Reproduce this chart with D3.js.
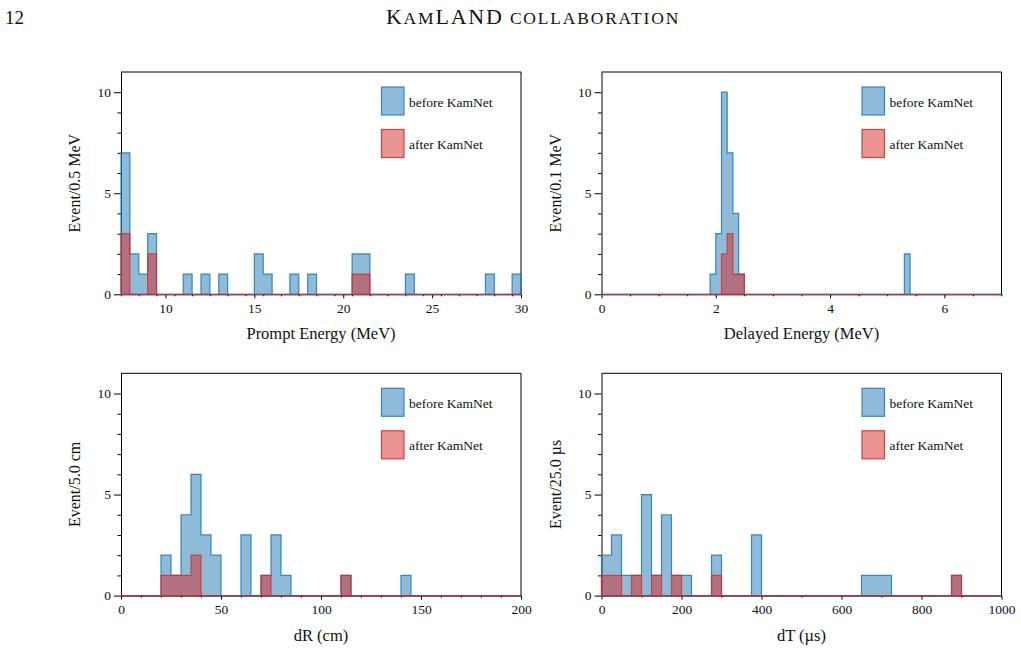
<!DOCTYPE html>
<html>
<head>
<meta charset="utf-8">
<script src="https://cdn.jsdelivr.net/npm/d3@7"></script>
<style>
    body { margin: 0; background: #fff; }
    svg text { font-family: 'Liberation Serif', 'DejaVu Serif', serif; fill: #111; }
</style>
</head>
<body>
<div id="chart"></div>
<script>
// Histogram contents as [bin low edge, events]
const promptBefore = [[7.5, 7], [8, 2], [8.5, 1], [9, 3], [11, 1], [12, 1], [13, 1], [15, 2], [15.5, 1],
    [17, 1], [18, 1], [20.5, 2], [21, 2], [23.5, 1], [28, 1], [29.5, 1]];
const promptAfter = [[7.5, 3], [9, 2], [20.5, 1], [21, 1]];

const delayedBefore = [[1.9, 1], [2.0, 3], [2.1, 10], [2.2, 7], [2.3, 4], [2.4, 1], [5.3, 2]];
const delayedAfter = [[2.1, 2], [2.2, 3], [2.3, 1], [2.4, 1]];

const dRBefore = [[20, 2], [25, 1], [30, 4], [35, 6], [40, 3], [45, 2], [60, 3], [70, 1], [75, 3],
    [80, 1], [110, 1], [140, 1]];
const dRAfter = [[20, 1], [25, 1], [30, 1], [35, 2], [70, 1], [110, 1]];

const dTBefore = [[0, 2], [25, 3], [50, 1], [75, 1], [100, 5], [125, 1], [150, 4], [175, 1], [200, 1],
    [275, 2], [375, 3], [650, 1], [675, 1], [700, 1], [875, 1]];
const dTAfter = [[0, 1], [25, 1], [75, 1], [125, 1], [175, 1], [275, 1], [875, 1]];

// Axis ranges, bin widths and ticks
const xDomains = [[7.5, 30], [0, 7], [0, 200], [0, 1000]];
const binWidths = [0.5, 0.1, 5, 25];
const xMajorTicks = [[10, 15, 20, 25, 30], [0, 2, 4, 6], [0, 50, 100, 150, 200], [0, 200, 400, 600, 800, 1000]];
const xMinorStep = [1, 0.5, 10, 100];
const yMajorTicks = [0, 5, 10];
const yMinorTicks = [1, 2, 3, 4, 6, 7, 8, 9];
const xTitles = ['Prompt Energy (MeV)', 'Delayed Energy (MeV)', 'dR (cm)', 'dT (\u00b5s)'];
const yTitles = ['Event/0.5 MeV', 'Event/0.1 MeV', 'Event/5.0 cm', 'Event/25.0 \u00b5s'];
const legendLabels = ['before KamNet', 'after KamNet'];

// Colors (matplotlib blue/red at half alpha)
const blue_edge = '#1f77b4';
const red_edge = '#d62728';

const width = 1021;
const height = 650;
const panelW = 400;
const panelH = 222.3;
const panelPos = [[121, 72], [601.5, 72], [121, 373.3], [601.5, 373.3]];

const svg = d3.select('#chart').append('svg')
    .attr('width', width)
    .attr('height', height);

// Page header: page number and running head in small caps
svg.append('text')
    .attr('x', 5)
    .attr('y', 24)
    .style('font-size', '19px')
    .text('12');
const head = svg.append('text')
    .attr('x', 533)
    .attr('y', 24)
    .style('text-anchor', 'middle')
    .style('letter-spacing', '1.8px');
[['K', 22], ['AM', 17.5], ['LAND', 22], [' COLLABORATION', 17.5]].forEach(([s, fs]) => {
    head.append('tspan').style('font-size', fs + 'px').text(s);
});

// Turn sparse bins into a closed step outline over the whole x range
function stepPath(bins, domain, bw, x, y) {
    const n = Math.round((domain[1] - domain[0]) / bw);
    const counts = new Array(n).fill(0);
    bins.forEach(([lo, c]) => {
        counts[Math.round((lo - domain[0]) / bw)] = c;
    });
    let pts = [[x(domain[0]), y(0)]];
    counts.forEach((c, i) => {
        const lo = domain[0] + i * bw;
        pts.push([x(lo), y(c)]);
        pts.push([x(lo + bw), y(c)]);
    });
    pts.push([x(domain[1]), y(0)]);
    return d3.line()(pts) + 'Z';
}

const allBefore = [promptBefore, delayedBefore, dRBefore, dTBefore];
const allAfter = [promptAfter, delayedAfter, dRAfter, dTAfter];

panelPos.forEach(([px, py], k) => {
    const g = svg.append('g').attr('transform', `translate(${px}, ${py})`);

    const xScale = d3.scaleLinear().domain(xDomains[k]).range([0, panelW]);
    const yScale = d3.scaleLinear().domain([0, 11]).range([panelH, 0]);

    // Frame (top and right)
    g.append('path')
        .attr('d', `M0,0H${panelW}V${panelH}`)
        .attr('fill', 'none')
        .attr('stroke', '#000')
        .attr('stroke-width', 1);

    // x axis with minor ticks
    const minor = d3.range(xDomains[k][0], xDomains[k][1] + 1e-9, xMinorStep[k])
        .filter(v => !xMajorTicks[k].some(t => Math.abs(t - v) < 1e-9));
    g.append('g')
        .attr('transform', `translate(0, ${panelH})`)
        .call(d3.axisBottom(xScale).tickValues(minor).tickSize(2).tickFormat(''))
        .call(a => a.select('.domain').remove());
    const xAxis = g.append('g')
        .attr('transform', `translate(0, ${panelH})`)
        .call(d3.axisBottom(xScale).tickValues(xMajorTicks[k]).tickSize(4).tickPadding(5)
            .tickSizeOuter(0).tickFormat(d3.format('~g')));
    xAxis.selectAll('text').style('font-size', '13.5px').attr('fill', '#111').style('font-family', null);

    // y axis with minor ticks
    g.append('g')
        .call(d3.axisLeft(yScale).tickValues(yMinorTicks).tickSize(3.5).tickFormat(''))
        .call(a => a.select('.domain').remove());
    const yAxis = g.append('g')
        .call(d3.axisLeft(yScale).tickValues(yMajorTicks).tickSize(7).tickPadding(3).tickSizeOuter(0));
    yAxis.selectAll('text').style('font-size', '13.5px').attr('fill', '#111').style('font-family', null);

    // Histograms: before (blue), then after (red) on top
    const bw = binWidths[k];
    g.append('path')
        .attr('d', stepPath(allBefore[k], xDomains[k], bw, xScale, yScale))
        .attr('fill', blue_edge)
        .attr('fill-opacity', 0.5)
        .attr('stroke', blue_edge)
        .attr('stroke-opacity', 0.85)
        .attr('stroke-width', 1.2);
    g.append('path')
        .attr('d', stepPath(allAfter[k], xDomains[k], bw, xScale, yScale))
        .attr('fill', red_edge)
        .attr('fill-opacity', 0.5)
        .attr('stroke', red_edge)
        .attr('stroke-opacity', 0.75)
        .attr('stroke-width', 1.2);

    // Axis titles
    g.append('text')
        .attr('x', panelW / 2)
        .attr('y', panelH + 45)
        .style('text-anchor', 'middle')
        .style('font-size', '16.5px')
        .text(xTitles[k]);
    g.append('text')
        .attr('transform', `translate(-41, ${panelH / 2}) rotate(-90)`)
        .style('text-anchor', 'middle')
        .style('font-size', '16px')
        .text(yTitles[k]);

    // Legend
    const legendColors = [blue_edge, red_edge];
    legendLabels.forEach((label, i) => {
        const ly = 15 + i * 42.5;
        g.append('rect')
            .attr('x', 260.5)
            .attr('y', ly)
            .attr('width', 22.5)
            .attr('height', 28)
            .attr('fill', legendColors[i])
            .attr('fill-opacity', 0.5)
            .attr('stroke', legendColors[i])
            .attr('stroke-opacity', 0.85)
            .attr('stroke-width', 1.2);
        g.append('text')
            .attr('x', 288)
            .attr('y', ly + 19.5)
            .style('font-size', '13.5px')
            .text(label);
    });
});
</script>
</body>
</html>
